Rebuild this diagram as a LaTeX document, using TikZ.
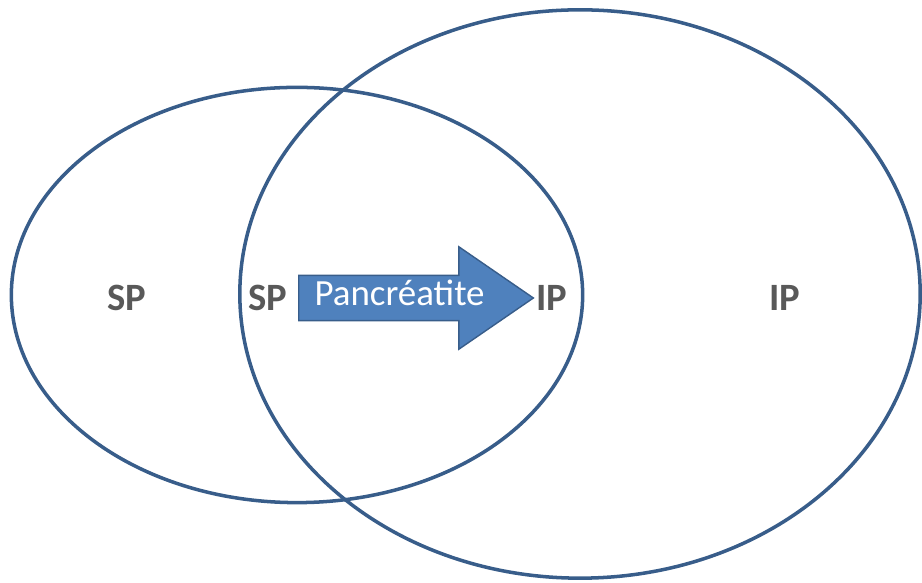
\documentclass[tikz,border=0pt]{standalone}
\usepackage{fontspec}
\setmainfont{Carlito}
\usetikzlibrary{shapes.geometric,shapes.arrows}
\definecolor{bordo}{HTML}{385D8A}
\definecolor{freccia}{HTML}{4F81BD}
\definecolor{grigio}{HTML}{595959}
\begin{document}
\begin{tikzpicture}[x=0.01cm, y=-0.01cm,
    insieme/.style={ellipse, draw=bordo, line width=1pt, inner sep=0pt},
    etichetta/.style={font=\fontsize{11}{13}\selectfont\bfseries, text=grigio}]
      \useasboundingbox (0,0) rectangle (922,583);

      % Insiemi
      \node (L) at (297,295) [insieme, minimum width=5.71cm, minimum height=4.15cm] {};
      \node (R) at (580,294) [insieme, minimum width=6.8cm, minimum height=5.68cm] {};

      % Freccia
      \node (F) at (298,298) [single arrow, anchor=tail, fill=freccia, draw=bordo,
        line width=0.4pt, minimum height=2.18cm, single arrow head extend=0.285cm,
        single arrow tip angle=69, inner xsep=4.3pt, inner ysep=0pt,
        text height=8.5pt, text depth=4pt, text=white,
        font=\fontsize{10.5}{13}\selectfont] {Pancréatite};

      % Etichette
      \node (SP1) at (127,298) [etichetta] {SP};
      \node (SP2) at (268,298) [etichetta] {SP};
      \node (IP1) at (552,298) [etichetta] {IP};
      \node (IP2) at (785,298) [etichetta] {IP};
    \end{tikzpicture}
\end{document}
